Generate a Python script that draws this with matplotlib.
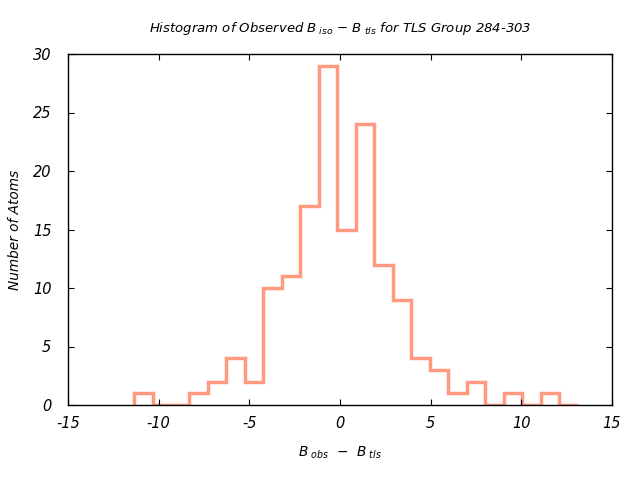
import matplotlib
matplotlib.use('Agg')
import matplotlib.pyplot as plt

# Data
bin_edges = [-11.36, -10.34, -9.32, -8.30, -7.28, -6.26, -5.24, -4.22, -3.20,
             -2.18, -1.16, -0.14, 0.88, 1.90, 2.92, 3.94, 4.96, 5.98, 7.00,
             8.02, 9.04, 10.06, 11.08, 12.10, 13.12]
counts = [1, 0, 0, 1, 2, 4, 2, 10, 11, 17, 29, 15, 24, 12, 9, 4, 3, 1, 2, 0, 1, 0, 1, 0]
x_ticks = [-15, -10, -5, 0, 5, 10, 15]
y_ticks = [0, 5, 10, 15, 20, 25, 30]

plt.rcParams['font.family'] = 'DejaVu Sans'
plt.rcParams['font.style'] = 'italic'
plt.rcParams['mathtext.fontset'] = 'custom'
plt.rcParams['mathtext.it'] = 'DejaVu Sans:italic'
plt.rcParams['mathtext.rm'] = 'DejaVu Sans:italic'
plt.rcParams['axes.unicode_minus'] = False

fig = plt.figure(figsize=(6.4, 4.8), dpi=100)
ax = fig.add_axes([68 / 640, 75 / 480, 544 / 640, 351 / 480])

ax.stairs(counts, bin_edges, color='#ff9980', lw=2.5, baseline=None)
# drop the outer left edge to zero like the reference
ax.plot([bin_edges[0], bin_edges[0]], [0, counts[0]], color='#ff9980', lw=2.5)

ax.set_xlim(-15, 15)
ax.set_ylim(0, 30)
ax.set_xticks(x_ticks)
ax.set_yticks(y_ticks)
ax.tick_params(direction='in', top=True, right=True, length=4, labelsize=10.5)
ax.tick_params(axis='x', pad=8)
ax.tick_params(axis='y', pad=12)
for s in ax.spines.values():
    s.set_linewidth(1.0)

ax.set_title(r'Histogram of Observed $B_{\ iso}$ $-$ $B_{\ tls}$ for TLS Group 284-303',
             fontsize=9.5, pad=16)
ax.set_xlabel(r'$B_{\ obs}$  $-$  $B_{\ tls}$', fontsize=9.8, labelpad=10)
ax.set_ylabel('Number of Atoms', fontsize=9.8, labelpad=8)

fig.savefig('out.png', dpi=100)
